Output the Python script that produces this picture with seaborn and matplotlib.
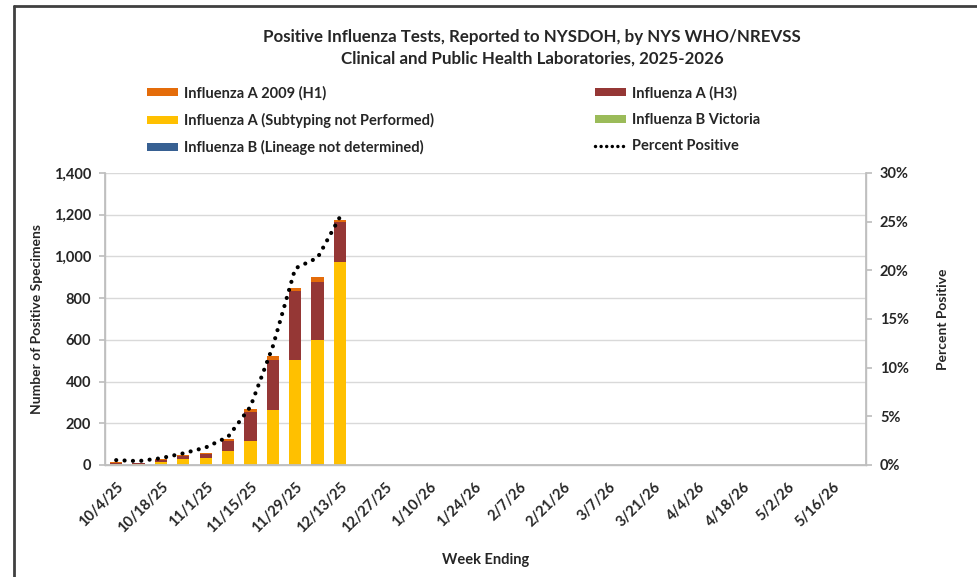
import matplotlib
matplotlib.use("Agg")
import matplotlib.pyplot as plt
import seaborn as sns
import numpy as np
import pandas as pd
from matplotlib.patches import Patch
from matplotlib.lines import Line2D

weeks = ["10/4/25", "10/11/25", "10/18/25", "10/25/25", "11/1/25", "11/8/25",
         "11/15/25", "11/22/25", "11/29/25", "12/6/25", "12/13/25", "12/20/25",
         "12/27/25", "1/3/26", "1/10/26", "1/17/26", "1/24/26", "1/31/26",
         "2/7/26", "2/14/26", "2/21/26", "2/28/26", "3/7/26", "3/14/26",
         "3/21/26", "3/28/26", "4/4/26", "4/11/26", "4/18/26", "4/25/26",
         "5/2/26", "5/9/26", "5/16/26", "5/23/26"]

# reported weeks (10/4/25 .. 12/13/25)
flu_b_lineage = [0, 0, 0, 0, 0, 0, 0, 0, 0, 3, 0]
flu_b_victoria = [0, 0, 0, 0, 0, 0, 0, 0, 0, 0, 0]
flu_a_not_subtyped = [6, 6, 16, 29, 32, 67, 117, 264, 504, 598, 973]
flu_a_h3 = [5, 3, 10, 13, 22, 48, 136, 240, 328, 278, 194]
flu_a_h1 = [4, 2, 3, 6, 5, 8, 16, 20, 16, 20, 10]
percent_positive = [0.5, 0.4, 0.7, 1.2, 1.8, 2.9, 6.0, 12.2, 20.2, 21.3, 25.5]

series = [
    ("Influenza B (Lineage not determined)", flu_b_lineage, "#376092"),
    ("Influenza B Victoria", flu_b_victoria, "#9BBB59"),
    ("Influenza A (Subtyping not Performed)", flu_a_not_subtyped, "#FFC000"),
    ("Influenza A (H3)", flu_a_h3, "#953735"),
    ("Influenza A 2009 (H1)", flu_a_h1, "#E46C0A"),
]

n = len(flu_a_h1)
df = pd.DataFrame({"week": weeks[:n]})
cum = np.zeros(n)
cols = []
for name, vals, color in series:
    cum = cum + np.array(vals, dtype=float)
    df[name] = cum.copy()
    cols.append((name, color))

sns.set_theme(style="white")
FONT = ["Lato", "DejaVu Sans"]
plt.rcParams["font.family"] = FONT
plt.rcParams["font.weight"] = "bold"

fig = plt.figure(figsize=(9.78, 5.77), dpi=100)
ax = fig.add_axes([105 / 978, 1 - 465 / 577, (866 - 105) / 978, (465 - 173) / 577])

# draw cumulative totals, tallest first
for name, color in reversed(cols):
    sns.barplot(data=df, x="week", y=name, order=weeks, color=color,
                width=0.55, saturation=1, ax=ax, linewidth=0)

ax.set_xlim(-0.5, len(weeks) - 0.5)
ax.set_ylim(0, 1400)
ax.set_yticks(np.arange(0, 1401, 200))
ax.set_yticklabels([f"{v:,}" for v in range(0, 1401, 200)])
ax.yaxis.grid(True, color="#D9D9D9", linewidth=1)
ax.set_axisbelow(True)

ax.set_xticks(np.arange(0, len(weeks), 2))
ax.set_xticklabels(weeks[::2], rotation=45, ha="right", rotation_mode="anchor")
ax.set_xticks(np.arange(-0.5, len(weeks), 1), minor=True)
ax.tick_params(axis="x", which="major", length=0, pad=11, labelsize=10.5)
ax.tick_params(axis="x", which="minor", length=4, color="#BFBFBF", direction="out")
ax.tick_params(axis="y", length=4, color="#BFBFBF", labelsize=10.5, pad=6)
for s in ["left", "bottom", "right"]:
    ax.spines[s].set_color("#BFBFBF")
    ax.spines[s].set_linewidth(1)
ax.spines["top"].set_visible(False)
ax.set_xlabel("Week Ending", fontsize=10.5, fontweight="bold", labelpad=12)
ax.set_ylabel("Number of Positive Specimens", fontsize=10, fontweight="bold", labelpad=8)
for lbl in ax.get_xticklabels() + ax.get_yticklabels():
    lbl.set_fontweight("bold")

ax2 = ax.twinx()
line_df = pd.DataFrame({"pos": np.arange(n), "pct": percent_positive})
sns.lineplot(data=line_df, x="pos", y="pct", ax=ax2, color="black",
             linewidth=3, linestyle=(0, (0.01, 2.0)), dash_capstyle="round")
ax2.lines[0].set_dash_capstyle("round")
ax2.set_ylim(0, 30)
ax2.set_yticks(np.arange(0, 31, 5))
ax2.set_yticklabels([f"{v}%" for v in range(0, 31, 5)])
ax2.tick_params(axis="y", length=4, color="#BFBFBF", labelsize=10.5, pad=6)
for lbl in ax2.get_yticklabels():
    lbl.set_fontweight("bold")
ax2.set_ylabel("Percent Positive", fontsize=10, fontweight="bold", labelpad=20)
ax2.set_xlabel("")
for s in ["left", "bottom", "right"]:
    ax2.spines[s].set_color("#BFBFBF")
ax2.spines["top"].set_visible(False)
ax2.set_xlim(-0.5, len(weeks) - 0.5)

fig.text(532 / 978, 1 - 37 / 577, "Positive Influenza Tests, Reported to NYSDOH, by NYS WHO/NREVSS",
         ha="center", va="center", fontsize=12.2, fontweight="bold")
fig.text(532 / 978, 1 - 59 / 577, "Clinical and Public Health Laboratories, 2025-2026",
         ha="center", va="center", fontsize=12.2, fontweight="bold")

color_map = {name: color for name, _, color in series}
left_names = ["Influenza A 2009 (H1)", "Influenza A (Subtyping not Performed)",
              "Influenza B (Lineage not determined)"]
right_names = ["Influenza A (H3)", "Influenza B Victoria"]
left_handles = [Patch(facecolor=color_map[nm], edgecolor="none", label=nm) for nm in left_names]
right_handles = [Patch(facecolor=color_map[nm], edgecolor="none", label=nm) for nm in right_names]
right_handles.append(Line2D([0], [0], color="black", linewidth=2.5,
                            linestyle=(0, (0.01, 1.6)), dash_capstyle="round",
                            label="Percent Positive"))
leg_kw = dict(frameon=False, handlelength=2.1, handleheight=0.45,
              labelspacing=0.85, handletextpad=0.45, borderaxespad=0, borderpad=0,
              prop={"weight": "bold", "size": 10.5, "family": FONT})
fig.legend(handles=left_handles, loc="upper left",
           bbox_to_anchor=(147 / 978, 1 - 86 / 577), **leg_kw)
fig.legend(handles=right_handles, loc="upper left",
           bbox_to_anchor=(595 / 978, 1 - 86 / 577), **leg_kw)

# outer frame (top and left edges visible)
fig.add_artist(Line2D([14 / 978, 1], [1 - 6 / 577, 1 - 6 / 577], color="#404040",
                      linewidth=2, transform=fig.transFigure))
fig.add_artist(Line2D([14 / 978, 14 / 978], [0, 1 - 6 / 577], color="#404040",
                      linewidth=2, transform=fig.transFigure))

fig.savefig("out.png", dpi=100, facecolor="white")
